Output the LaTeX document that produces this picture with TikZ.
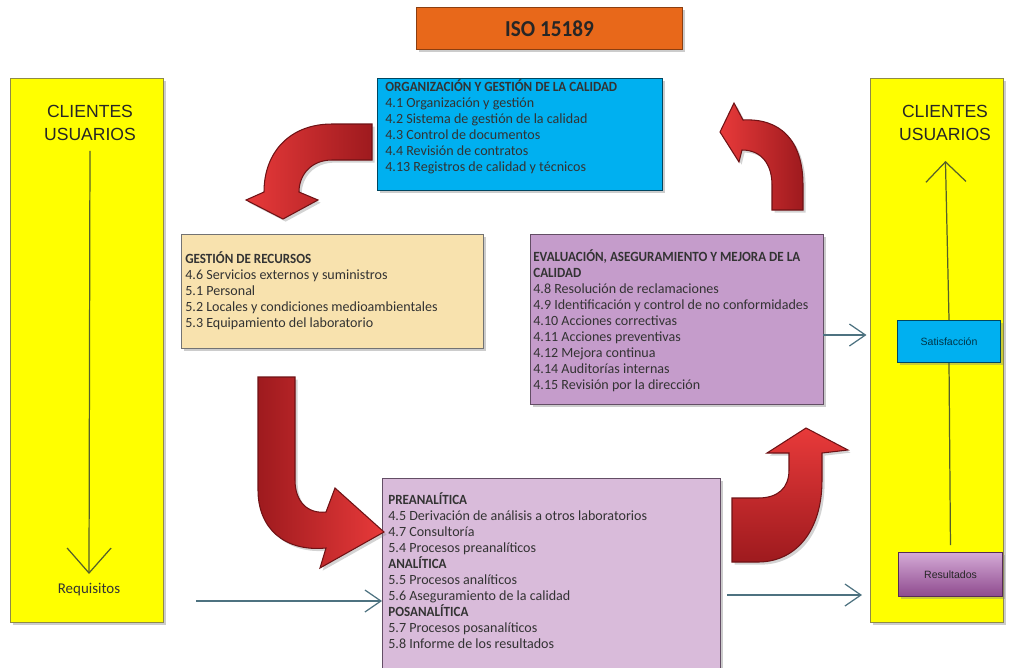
\documentclass[tikz,border=0pt]{standalone}
\usepackage{fontspec}
\setmainfont{Carlito}
\newfontfamily\ttlfont[FakeStretch=0.93]{Carlito Bold}
\newfontfamily\clifont{Liberation Sans}
\usetikzlibrary{arrows.meta,calc,shadows,positioning}

\definecolor{isoorange}{HTML}{E8681A}
\definecolor{cliyellow}{HTML}{FFFF00}
\definecolor{orgblue}{HTML}{00B0F0}
\definecolor{rectan}{HTML}{F8E2AE}
\definecolor{evalpurple}{HTML}{C59CCB}
\definecolor{proclav}{HTML}{D9BBDA}
\definecolor{linegray}{HTML}{4D7280}
\definecolor{oliveline}{HTML}{55602A}
\definecolor{arrowlight}{HTML}{E83A3A}
\definecolor{arrowdark}{HTML}{9E1A1E}
\definecolor{reslight}{HTML}{D4AAD6}
\definecolor{resdark}{HTML}{8E4A8E}

\tikzset{
  box/.style={draw=#1, line width=0.6pt, anchor=north west, inner sep=0pt,
    drop shadow={shadow xshift=1.5pt, shadow yshift=-1.5pt, opacity=0.4}},
  boxtext/.style={anchor=north west, inner sep=0pt, align=left,
    font=\fontsize{8}{9.1}\selectfont, text=black!80},
  clitext/.style={anchor=north, inner sep=0pt, align=center,
    font=\clifont\fontsize{10}{13}\selectfont, text=black!85},
  smalltext/.style={font=\clifont\fontsize{6}{7}\selectfont},
  linkarrow/.style={linegray, line width=0.7pt, -{Straight Barb[length=0.32cm, width=0.44cm]}},
  flowline/.style={oliveline, line width=0.7pt},
  redarrow/.style={draw=arrowdark!70!black, line width=0.6pt,
    drop shadow={shadow xshift=1.5pt, shadow yshift=-1.5pt, opacity=0.35}},
}

\begin{document}
\begin{tikzpicture}[x=0.02cm, y=-0.02cm]
\useasboundingbox (0,0) rectangle (1011,667);

% title
\node[box=isoorange!60!black, fill=isoorange, minimum width=5.32cm, minimum height=0.84cm] (iso) at (416,7) {};
\node[font=\ttlfont\fontsize{13}{15}\selectfont, text=black!85] (isoT) at (iso.center) {ISO 15189};

% clients on both sides
\node[box=black!50!yellow, fill=cliyellow, minimum width=3.06cm, minimum height=10.88cm] (cliL) at (10,78) {};
\node[box=black!50!yellow, fill=cliyellow, minimum width=2.66cm, minimum height=10.88cm] (cliR) at (870,78) {};
\node[clitext] (cliLT) at (90,105) {CLIENTES\\USUARIOS};
\node[clitext] (cliRT) at (945,105) {CLIENTES\\USUARIOS};
\node[font=\fontsize{8.5}{10}\selectfont, text=black!80] (req) at (89,590) {Requisitos};
\node[box=black!60!orgblue, fill=orgblue, minimum width=2.06cm, minimum height=0.84cm] (satis) at (897,320) {};
\node[smalltext, text=black!70!orgblue] (satisT) at (satis.center) {Satisfacción};
\node[box=resdark!60!black, top color=reslight, bottom color=resdark, minimum width=2.08cm, minimum height=0.88cm] (res) at (898,552) {};
\node[smalltext, text=black!85] (resT) at (res.center) {Resultados};

\draw[flowline, shorten <=0.2cm, shorten >=2pt, -{Straight Barb[length=0.5cm, width=0.88cm]}] (cliLT.south) -- (req.north);
\draw[flowline, shorten <=0.14cm] (res.north) -- (satis.south);
\draw[flowline, shorten >=0.4cm, -{Straight Barb[length=0.4cm, width=0.8cm]}] (satis.north) -- (cliRT.south);

% the four blocks
\node[box=black!60!orgblue, fill=orgblue, minimum width=5.70cm, minimum height=2.24cm] (org) at (377,78) {};
\node[boxtext] (orgT) at (385,79) {{\ttlfont ORGANIZACIÓN Y GESTIÓN DE LA CALIDAD}\\
  4.1 Organización y gestión\\
  4.2 Sistema de gestión de la calidad\\
  4.3 Control de documentos\\
  4.4 Revisión de contratos\\
  4.13 Registros de calidad y técnicos};

\node[box=black!55, fill=rectan, minimum width=6.04cm, minimum height=2.28cm] (rec) at (181,234) {};
\node[boxtext] (recT) at (185,251) {{\ttlfont GESTIÓN DE RECURSOS}\\
  4.6 Servicios externos y suministros\\
  5.1 Personal\\
  5.2 Locales y condiciones medioambientales\\
  5.3 Equipamiento del laboratorio};

\node[box=evalpurple!50!black, fill=evalpurple, minimum width=5.86cm, minimum height=3.40cm] (eval) at (530,234) {};
\node[boxtext] (evalT) at (533,249) {{\ttlfont EVALUACIÓN, ASEGURAMIENTO Y MEJORA DE LA}\\
  {\ttlfont CALIDAD}\\
  4.8 Resolución de reclamaciones\\
  4.9 Identificación y control de no conformidades\\
  4.10 Acciones correctivas\\
  4.11 Acciones preventivas\\
  4.12 Mejora continua\\
  4.14 Auditorías internas\\
  4.15 Revisión por la dirección};

\node[box=evalpurple!50!black, fill=proclav, minimum width=6.76cm, minimum height=3.90cm] (proc) at (382,478) {};
\node[boxtext] (procT) at (388,492) {{\ttlfont PREANALÍTICA}\\
  4.5 Derivación de análisis a otros laboratorios\\
  4.7 Consultoría\\
  5.4 Procesos preanalíticos\\
  {\ttlfont ANALÍTICA}\\
  5.5 Procesos analíticos\\
  5.6 Aseguramiento de la calidad\\
  {\ttlfont POSANALÍTICA}\\
  5.7 Procesos posanalíticos\\
  5.8 Informe de los resultados};

% thin links
\coordinate (reqOut) at (196,601);
\coordinate (resOut) at (727,595);
\coordinate (evalOut) at (823,335);
\draw[linkarrow] (reqOut) -- (reqOut -| proc.west);
\draw[linkarrow, shorten >=0.16cm] (resOut) -- (resOut -| cliR.west);
\draw[linkarrow, shorten >=2pt] (evalOut) -- (evalOut -| cliR.west);

% red bent arrows
\draw[redarrow, left color=arrowlight, right color=arrowdark]
  (372,124) -- (332,124) .. controls (290,124) and (264,152) .. (264,192)
  -- (246,200) -- (283,219) -- (318,200) -- (299,192)
  .. controls (299,174) and (312,160) .. (332,160) -- (372,160) -- cycle;
\draw[redarrow, left color=arrowdark, right color=arrowlight]
  (258,377) -- (295,377) -- (295,480) .. controls (295,502) and (308,514) .. (326,512)
  -- (335,488) -- (384,532) -- (320,568) -- (326,548)
  .. controls (284,552) and (258,528) .. (258,490) -- cycle;
\draw[redarrow, top color=arrowlight, bottom color=arrowdark]
  (732,498) -- (758,498) .. controls (778,498) and (789,488) .. (789,470)
  -- (789,453) -- (767,453) -- (806,428) -- (848,450) -- (822,453) -- (822,480)
  .. controls (822,532) and (795,562) .. (758,562) -- (732,562) -- cycle;
\draw[redarrow, left color=arrowlight, right color=arrowdark]
  (772,210) -- (803,210) -- (803,185) .. controls (803,140) and (780,118) .. (743,120)
  -- (734,103) -- (720,132) -- (739,162) -- (742,150)
  .. controls (762,150) and (772,165) .. (772,185) -- cycle;

\end{tikzpicture}
\end{document}
